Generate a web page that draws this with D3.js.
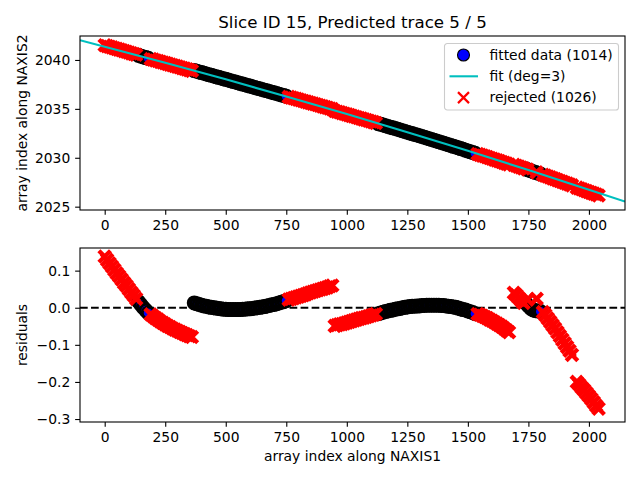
<!DOCTYPE html>
<html>
<head>
<meta charset="utf-8">
<script src="https://cdn.jsdelivr.net/npm/d3@7"></script>
<style>
  body { margin: 0; background: #fff; }
  svg { font-family: "DejaVu Sans", sans-serif; }
</style>
</head>
<body>
<svg id="chart" width="640" height="480"></svg>
<script>
let title = "Slice ID 15, Predicted trace 5 / 5";

// fitted points: x, trace position (top panel), residual (bottom panel)
let fittedX = [
  140, 150, 160, 170, 180,
  370, 380, 390, 400, 410, 420, 430, 440, 450, 460, 470, 480, 490, 500, 510, 520, 530, 540, 550, 560,
  570, 580, 590, 600, 610, 620, 630, 640, 650, 660, 670, 680, 690, 700, 710, 720, 730, 740, 750,
  1130, 1140, 1150, 1160, 1170, 1180, 1190, 1200, 1210, 1220, 1230, 1240, 1250, 1260, 1270, 1280,
  1290, 1300, 1310, 1320, 1330, 1340, 1350, 1360, 1370, 1380, 1390, 1400, 1410, 1420, 1430, 1440,
  1450, 1460, 1470, 1480, 1490, 1500, 1510, 1520, 1530,
  1740, 1750, 1760, 1770, 1780, 1790, 1800
];
let fittedTrace = [
  2040.47, 2040.39, 2040.31, 2040.24, 2040.17,
  2038.91, 2038.85, 2038.78, 2038.71, 2038.64, 2038.57, 2038.50, 2038.43, 2038.36, 2038.29, 2038.22,
  2038.16, 2038.09, 2038.02, 2037.95, 2037.88, 2037.81, 2037.74, 2037.67, 2037.60, 2037.53, 2037.47,
  2037.40, 2037.33, 2037.26, 2037.19, 2037.12, 2037.05, 2036.98, 2036.91, 2036.85, 2036.78, 2036.71,
  2036.64, 2036.57, 2036.49, 2036.43, 2036.36, 2036.29,
  2033.49, 2033.43, 2033.35, 2033.28, 2033.20, 2033.13, 2033.06, 2032.99, 2032.92, 2032.84, 2032.77,
  2032.69, 2032.62, 2032.54, 2032.47, 2032.39, 2032.33, 2032.25, 2032.17, 2032.10, 2032.02, 2031.95,
  2031.87, 2031.79, 2031.72, 2031.64, 2031.57, 2031.49, 2031.41, 2031.33, 2031.25, 2031.17, 2031.10,
  2031.02, 2030.94, 2030.87, 2030.78, 2030.70, 2030.62, 2030.54, 2030.46,
  2028.84, 2028.76, 2028.67, 2028.58, 2028.50, 2028.42, 2028.34
];
let fittedResid = [
  0.016, 0.008, 0.000, -0.007, -0.014,
  0.013, 0.011, 0.009, 0.007, 0.005, 0.004, 0.002, 0.001, 0.000,
  -0.001, -0.002, -0.003, -0.004, -0.004, -0.005, -0.005, -0.005, -0.005, -0.005, -0.005,
  -0.004, -0.004, -0.003, -0.003, -0.002, -0.001, 0.000, 0.001, 0.002,
  0.003, 0.005, 0.006, 0.008, 0.009, 0.011, 0.013, 0.015, 0.017, 0.019,
  -0.016, -0.014, -0.012, -0.010, -0.009, -0.007, -0.006, -0.004, -0.003, -0.002, 0.000, 0.001, 0.002,
  0.003, 0.004, 0.004, 0.005, 0.005, 0.006, 0.006, 0.007, 0.007, 0.007,
  0.007, 0.007, 0.007, 0.006, 0.006, 0.005, 0.004, 0.003, 0.002, 0.001,
  -0.001, -0.003, -0.005, -0.006, -0.009, -0.011, -0.013, -0.016,
  0.012, 0.005, -0.002, -0.006, -0.008, -0.009, -0.010
];

// rejected points
let rejectedX = [
  0, 10, 20, 30, 40, 50, 60, 70, 80, 90, 100, 110, 120, 130,
  190, 200, 210, 220, 230, 240, 250, 260, 270, 280, 290, 300, 310, 320, 330, 340, 350, 360,
  760, 770, 780, 790, 800, 810, 820, 830, 840, 850, 860, 870, 880, 890, 900, 910, 920, 930, 940,
  950, 960, 970, 980, 990, 1000, 1010, 1020, 1030, 1040, 1050, 1060, 1070, 1080, 1090, 1100, 1110, 1120,
  1540, 1550, 1560, 1570, 1580, 1590, 1600, 1610, 1620, 1630, 1640, 1650, 1660, 1670,
  1690, 1700, 1710, 1720, 1730,
  1746, 1784,
  1810, 1820, 1830, 1840, 1850, 1860, 1870, 1880, 1890, 1900, 1910, 1920, 1930,
  1950, 1960, 1970, 1980, 1990, 2000, 2010, 2020, 2030, 2040
];
let rejectedTrace = [
  2041.50, 2041.42, 2041.35, 2041.28, 2041.20, 2041.13, 2041.06, 2040.99, 2040.91, 2040.84, 2040.76,
  2040.68, 2040.61, 2040.53,
  2040.10, 2040.03, 2039.95, 2039.89, 2039.81, 2039.74, 2039.68, 2039.60, 2039.53, 2039.46, 2039.39,
  2039.32, 2039.25, 2039.17, 2039.11, 2039.04, 2038.96, 2038.89,
  2036.22, 2036.15, 2036.09, 2036.02, 2035.95, 2035.88, 2035.80, 2035.74, 2035.67, 2035.60, 2035.53,
  2035.47, 2035.39, 2035.32, 2035.25, 2035.18, 2035.11, 2035.04, 2034.97,
  2034.78, 2034.71, 2034.65, 2034.57, 2034.50, 2034.43, 2034.36, 2034.28, 2034.22, 2034.14, 2034.07,
  2034.00, 2033.92, 2033.86, 2033.78, 2033.71, 2033.64, 2033.56,
  2030.38, 2030.30, 2030.22, 2030.15, 2030.06, 2029.98, 2029.90, 2029.81, 2029.74, 2029.65, 2029.57,
  2029.48, 2029.40, 2029.31,
  2029.27, 2029.18, 2029.10, 2029.01, 2028.92,
  2028.80, 2028.50,
  2028.26, 2028.17, 2028.08, 2027.99, 2027.90, 2027.81, 2027.72, 2027.63, 2027.54, 2027.45, 2027.36,
  2027.27, 2027.18,
  2026.95, 2026.86, 2026.78, 2026.68, 2026.59, 2026.50, 2026.41, 2026.33, 2026.24, 2026.14
];
let rejectedResid = [
  0.138, 0.129, 0.120, 0.111, 0.102, 0.093, 0.085, 0.076, 0.067, 0.059, 0.050, 0.041, 0.033, 0.024,
  -0.018, -0.023, -0.028, -0.032, -0.037, -0.041, -0.045, -0.049, -0.052, -0.056, -0.059, -0.062,
  -0.065, -0.068, -0.071, -0.074, -0.077, -0.079,
  0.022, 0.024, 0.026, 0.028, 0.030, 0.032, 0.034, 0.036, 0.039, 0.041, 0.043, 0.045, 0.047, 0.049,
  0.051, 0.053, 0.055, 0.058, 0.060,
  -0.049, -0.047, -0.045, -0.044, -0.042, -0.040, -0.038, -0.036, -0.034, -0.032, -0.030, -0.028,
  -0.027, -0.025, -0.023, -0.021, -0.019, -0.017,
  -0.017, -0.019, -0.022, -0.025, -0.028, -0.032, -0.035, -0.039, -0.043, -0.047, -0.051, -0.056,
  -0.061, -0.066,
  0.040, 0.034, 0.027, 0.020, 0.013,
  0.022, 0.024,
  -0.012, -0.020, -0.029, -0.038, -0.047, -0.056, -0.066, -0.076, -0.086, -0.096, -0.106, -0.116, -0.127,
  -0.200, -0.207, -0.215, -0.222, -0.230, -0.238, -0.246, -0.255, -0.264, -0.272
];

// polynomial fit, read at a few x positions
let fitX = [-102, 0, 250, 500, 750, 1000, 1250, 1500, 1750, 2000, 2149];
let fitY = [2042.02, 2041.36, 2039.72, 2038.02, 2036.27, 2034.47, 2032.62, 2030.71, 2028.75, 2026.74, 2025.52];

let xTicks = [0, 250, 500, 750, 1000, 1250, 1500, 1750, 2000];
let traceTicks = [2025, 2030, 2035, 2040];
let residTicks = [-0.3, -0.2, -0.1, 0.0, 0.1];

let legendLabels = ["fitted data (1014)", "fit (deg=3)", "rejected (1026)"];

let fitted = fittedX.map((x, i) => ({ x: x, trace: fittedTrace[i], resid: fittedResid[i] }));
let rejected = rejectedX.map((x, i) => ({ x: x, trace: rejectedTrace[i], resid: rejectedResid[i] }));
let fitLine = fitX.map((x, i) => ({ x: x, y: fitY[i] }));

let left = 80;
let right = 625;
let fontSize = 13.89;
let tickLen = 4.86;

let svg = d3.select("#chart");

let xScale = d3.scaleLinear().domain([-102, 2149]).range([left, right]);
let yTop = d3.scaleLinear().domain([2024.66, 2042.45]).range([210, 36]);
let yBot = d3.scaleLinear().domain([-0.308, 0.161]).range([422, 248]);

let crossPath = (s) => `M${-s},${-s}L${s},${s}M${-s},${s}L${s},${-s}`;

let addClip = (id, yScale) => {
  let [y0, y1] = yScale.range();
  svg.append("clipPath").attr("id", id)
    .append("rect")
    .attr("x", left).attr("y", y1)
    .attr("width", right - left).attr("height", y0 - y1);
};

// the real markers are packed so tightly that they merge into bands;
// slightly heavier strokes make the sparser samples merge the same way
let drawPoints = (g, yScale, key) => {
  g.selectAll("circle.fitted")
    .data(fitted)
    .enter()
    .append("circle")
    .attr("class", "fitted")
    .attr("cx", (d) => xScale(d.x))
    .attr("cy", (d) => yScale(d[key]))
    .attr("r", 6)
    .attr("fill", "#0000ff")
    .attr("stroke", "#000")
    .attr("stroke-width", 3);

  g.selectAll("path.rejected")
    .data(rejected)
    .enter()
    .append("path")
    .attr("class", "rejected")
    .attr("d", crossPath(5.8))
    .attr("transform", (d) => `translate(${xScale(d.x)},${yScale(d[key])})`)
    .attr("fill", "none")
    .attr("stroke", "#ff0000")
    .attr("stroke-width", 4.3);
};

let drawAxes = (yScale, ticks, fmt) => {
  let [y0, y1] = yScale.range();

  let xAxis = d3.axisBottom(xScale).tickValues(xTicks).tickFormat(d3.format("d"))
    .tickSizeInner(tickLen).tickSizeOuter(0).tickPadding(4.86);
  let yAxis = d3.axisLeft(yScale).tickValues(ticks).tickFormat(fmt)
    .tickSizeInner(tickLen).tickSizeOuter(0).tickPadding(4.86);

  let gx = svg.append("g").attr("transform", `translate(0,${y0})`).call(xAxis);
  let gy = svg.append("g").attr("transform", `translate(${left},0)`).call(yAxis);

  [gx, gy].forEach((g) => {
    g.select(".domain").remove();
    g.attr("font-family", "DejaVu Sans").attr("font-size", fontSize);
    g.selectAll("line").attr("stroke", "#000").attr("stroke-width", 1.1);
    g.selectAll("text").attr("fill", "#000");
  });

  svg.append("rect")
    .attr("x", left).attr("y", y1)
    .attr("width", right - left).attr("height", y0 - y1)
    .attr("fill", "none").attr("stroke", "#000").attr("stroke-width", 1.1);
};

// top panel: trace positions with fit
addClip("clip-top", yTop);
let topPanel = svg.append("g").attr("clip-path", "url(#clip-top)");
drawPoints(topPanel, yTop, "trace");

let line = d3.line().x((d) => xScale(d.x)).y((d) => yTop(d.y)).curve(d3.curveMonotoneX);
topPanel.append("path")
  .datum(fitLine)
  .attr("d", line)
  .attr("fill", "none")
  .attr("stroke", "#00bfbf")
  .attr("stroke-width", 2.08);

drawAxes(yTop, traceTicks, d3.format("d"));

// bottom panel: residuals
addClip("clip-bot", yBot);
let botPanel = svg.append("g").attr("clip-path", "url(#clip-bot)");
botPanel.append("line")
  .attr("x1", left).attr("x2", right)
  .attr("y1", yBot(0)).attr("y2", yBot(0))
  .attr("stroke", "#000")
  .attr("stroke-width", 2.08)
  .attr("stroke-dasharray", "7.7,3.33");
drawPoints(botPanel, yBot, "resid");

drawAxes(yBot, residTicks, d3.format(".1f"));

// titles and labels
svg.append("text")
  .attr("x", (left + right) / 2).attr("y", 27.7)
  .attr("text-anchor", "middle")
  .attr("font-size", 16.67)
  .text(title);

svg.append("text")
  .attr("x", (left + right) / 2).attr("y", 461)
  .attr("text-anchor", "middle")
  .attr("font-size", fontSize)
  .text("array index along NAXIS1");

svg.append("text")
  .attr("transform", `translate(26.5,${(36 + 210) / 2}) rotate(-90)`)
  .attr("text-anchor", "middle")
  .attr("font-size", fontSize)
  .text("array index along NAXIS2");

svg.append("text")
  .attr("transform", `translate(26.5,${(248 + 422) / 2}) rotate(-90)`)
  .attr("text-anchor", "middle")
  .attr("font-size", fontSize)
  .text("residuals");

// legend
let legend = svg.append("g").attr("transform", "translate(444.5,43.5)");
legend.append("rect")
  .attr("width", 174).attr("height", 66.5)
  .attr("rx", 2.8)
  .attr("fill", "#fff").attr("fill-opacity", 0.8)
  .attr("stroke", "#cccccc").attr("stroke-width", 1.1);

let rows = legend.selectAll("g.item")
  .data(legendLabels)
  .enter()
  .append("g")
  .attr("class", "item")
  .attr("transform", (d, i) => `translate(0,${11.5 + i * 21.3})`);

rows.append("text")
  .attr("x", 45).attr("y", 0)
  .attr("dy", "0.35em")
  .attr("font-size", fontSize)
  .text((d) => d);

rows.filter((d, i) => i === 0).append("circle")
  .attr("cx", 19).attr("cy", 0).attr("r", 6)
  .attr("fill", "#0000ff").attr("stroke", "#000").attr("stroke-width", 1.1);

rows.filter((d, i) => i === 1).append("line")
  .attr("x1", 5).attr("x2", 33.5)
  .attr("stroke", "#00bfbf").attr("stroke-width", 2.08);

rows.filter((d, i) => i === 2).append("path")
  .attr("d", crossPath(5.5))
  .attr("transform", "translate(19,0)")
  .attr("fill", "none").attr("stroke", "#ff0000").attr("stroke-width", 2.2);
</script>
</body>
</html>
